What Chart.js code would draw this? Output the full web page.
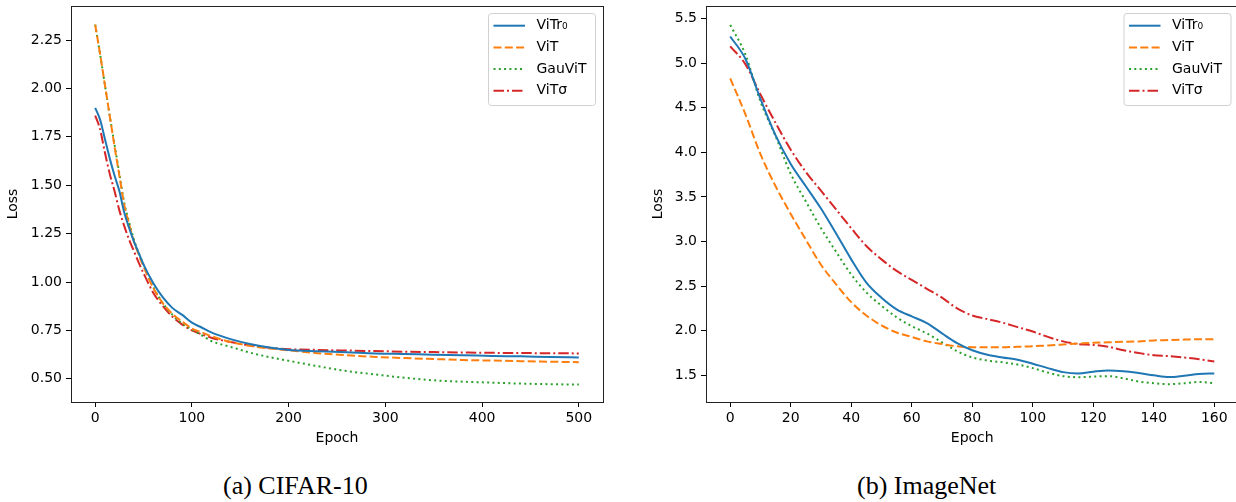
<!DOCTYPE html>
<html>
<head>
<meta charset="utf-8">
<script src="https://cdn.jsdelivr.net/npm/chart.js@4.4.1/dist/chart.umd.min.js"></script>
<style>
    body { margin: 0; background: #fff; overflow: hidden; width: 1236px; height: 502px; position: relative; }
    .panel { position: absolute; top: 0; height: 460px; }
    .caption { position: absolute; top: 471px; font-family: "Liberation Serif", serif; font-size: 26px; color: #000; white-space: nowrap; }
</style>
</head>
<body>
<div class="panel" style="left:0;width:618px"><canvas id="cifarChart"></canvas></div>
<div class="panel" style="left:618px;width:630px"><canvas id="imagenetChart"></canvas></div>
<div class="caption" style="left:223px">(a) CIFAR-10</div>
<div class="caption" style="left:857px">(b) ImageNet</div>
<script>
const seriesLabels = ['ViTr₀', 'ViT', 'GauViT', 'ViTσ'];

// (a) CIFAR-10
const epochsA = [0, 5, 10, 15, 20, 25, 30, 35, 40, 45, 50, 60, 70, 80, 90, 100, 110, 120, 140, 160, 180, 200, 230, 260, 290, 320, 350, 380, 410, 440, 470, 500];
const vitr0A = [1.90, 1.84, 1.74, 1.64, 1.55, 1.47, 1.36, 1.28, 1.21, 1.15, 1.09, 0.995, 0.92, 0.865, 0.83, 0.79, 0.765, 0.74, 0.705, 0.68, 0.662, 0.649, 0.642, 0.637, 0.631, 0.628, 0.624, 0.622, 0.618, 0.616, 0.612, 0.610];
const vitA = [2.33, 2.18, 2.02, 1.86, 1.70, 1.55, 1.40, 1.30, 1.21, 1.14, 1.08, 0.97, 0.89, 0.835, 0.795, 0.76, 0.74, 0.72, 0.69, 0.67, 0.657, 0.647, 0.632, 0.622, 0.613, 0.607, 0.602, 0.597, 0.594, 0.591, 0.588, 0.586];
const gauvitA = [2.33, 2.18, 2.02, 1.86, 1.71, 1.56, 1.41, 1.31, 1.22, 1.15, 1.09, 0.975, 0.89, 0.83, 0.785, 0.755, 0.725, 0.695, 0.665, 0.635, 0.612, 0.593, 0.565, 0.54, 0.522, 0.505, 0.492, 0.485, 0.48, 0.475, 0.472, 0.470];
const vitsigmaA = [1.86, 1.79, 1.67, 1.56, 1.47, 1.37, 1.29, 1.22, 1.16, 1.10, 1.045, 0.945, 0.875, 0.82, 0.78, 0.75, 0.73, 0.712, 0.69, 0.672, 0.66, 0.653, 0.649, 0.646, 0.643, 0.64, 0.638, 0.636, 0.634, 0.633, 0.632, 0.631];
const xTicksA = [0, 100, 200, 300, 400, 500];
const yTicksA = [0.50, 0.75, 1.00, 1.25, 1.50, 1.75, 2.00, 2.25];

// (b) ImageNet
const epochsB = [0, 5, 10, 15, 20, 25, 30, 35, 40, 45, 50, 55, 60, 65, 70, 75, 80, 85, 90, 95, 100, 105, 110, 115, 120, 125, 130, 135, 140, 145, 150, 155, 160];
const vitr0B = [5.30, 5.05, 4.60, 4.19, 3.87, 3.62, 3.37, 3.09, 2.80, 2.54, 2.37, 2.24, 2.16, 2.085, 1.97, 1.86, 1.78, 1.73, 1.70, 1.675, 1.63, 1.58, 1.535, 1.52, 1.54, 1.553, 1.545, 1.525, 1.50, 1.48, 1.495, 1.515, 1.52];
const vitB = [4.83, 4.43, 3.98, 3.62, 3.31, 3.02, 2.74, 2.52, 2.32, 2.17, 2.06, 1.98, 1.93, 1.88, 1.85, 1.825, 1.815, 1.815, 1.815, 1.82, 1.825, 1.835, 1.845, 1.855, 1.865, 1.87, 1.875, 1.88, 1.89, 1.895, 1.90, 1.905, 1.905];
const gauvitB = [5.43, 5.10, 4.57, 4.18, 3.76, 3.45, 3.15, 2.885, 2.63, 2.43, 2.28, 2.15, 2.05, 1.97, 1.87, 1.77, 1.70, 1.665, 1.645, 1.62, 1.58, 1.53, 1.49, 1.478, 1.485, 1.49, 1.465, 1.43, 1.41, 1.40, 1.41, 1.425, 1.41];
const vitsigmaB = [5.19, 4.99, 4.65, 4.33, 4.03, 3.78, 3.57, 3.36, 3.15, 2.95, 2.80, 2.67, 2.57, 2.47, 2.37, 2.25, 2.17, 2.13, 2.09, 2.04, 1.99, 1.93, 1.88, 1.85, 1.84, 1.82, 1.78, 1.75, 1.725, 1.715, 1.70, 1.68, 1.655];
const xTicksB = [0, 20, 40, 60, 80, 100, 120, 140, 160];
const yTicksB = [1.5, 2.0, 2.5, 3.0, 3.5, 4.0, 4.5, 5.0, 5.5];

const colors = ['#1f77b4', '#ff7f0e', '#2ca02c', '#d62728'];
const dashes = [[], [8, 3.3], [2, 3.3], [10.5, 3, 2, 3]];
const font = { family: 'DejaVu Sans', size: 14 };

Chart.defaults.font.family = 'DejaVu Sans';
Chart.defaults.color = '#000';

// box round the plot area
const framePlugin = {
    id: 'frame',
    afterDraw(chart) {
        const a = chart.chartArea;
        const ctx = chart.ctx;
        ctx.save();
        ctx.strokeStyle = '#222';
        ctx.lineWidth = 1;
        ctx.strokeRect(Math.round(a.left) + 0.5, Math.round(a.top) + 0.5, Math.round(a.right - a.left), Math.round(a.bottom - a.top));
        ctx.restore();
    }
};

// matplotlib-like legend in the upper right corner
const boxLegend = {
    id: 'boxLegend',
    afterDraw(chart) {
        const a = chart.chartArea;
        const ctx = chart.ctx;
        const w = 107, h = 92;
        const x = a.right - 8 - w, y = a.top + 7;
        ctx.save();
        ctx.beginPath();
        ctx.roundRect(x + 0.5, y + 0.5, w, h, 3);
        ctx.fillStyle = 'rgba(255,255,255,0.8)';
        ctx.fill();
        ctx.strokeStyle = '#d0d0d0';
        ctx.lineWidth = 1;
        ctx.stroke();
        chart.data.datasets.forEach((ds, i) => {
            const cy = y + 12.7 + i * 21.7;
            ctx.beginPath();
            ctx.setLineDash(ds.borderDash);
            ctx.strokeStyle = ds.borderColor;
            ctx.lineWidth = ds.borderWidth;
            ctx.moveTo(x + 5.5, cy);
            ctx.lineTo(x + 37, cy);
            ctx.stroke();
            ctx.setLineDash([]);
            ctx.fillStyle = '#000';
            ctx.font = '14px "DejaVu Sans"';
            ctx.textBaseline = 'middle';
            ctx.fillText(ds.label, x + 48.5, cy);
        });
        ctx.restore();
    }
};

function makeChart(id, epochs, series, xTicks, yTicks, xRange, yRange, decimals, geo) {
    const datasets = series.map((vals, i) => ({
        label: seriesLabels[i],
        data: epochs.map((e, j) => ({ x: e, y: vals[j] })),
        borderColor: colors[i],
        borderDash: dashes[i],
        borderWidth: 2,
        pointRadius: 0,
        fill: false,
        cubicInterpolationMode: 'monotone'
    }));
    return new Chart(document.getElementById(id).getContext('2d'), {
        type: 'line',
        data: { datasets: datasets },
        options: {
            responsive: true,
            maintainAspectRatio: false,
            animation: false,
            layout: { padding: { top: 6, right: geo.padRight, left: 0, bottom: 0 } },
            plugins: { legend: { display: false }, tooltip: { enabled: false } },
            scales: {
                x: {
                    type: 'linear',
                    min: xRange[0],
                    max: xRange[1],
                    afterBuildTicks: s => { s.ticks = xTicks.map(v => ({ value: v })); },
                    afterFit: s => { s.height = 58; s.paddingLeft = 0; s.paddingRight = 0; },
                    ticks: { font: font, padding: 3, maxRotation: 0, autoSkip: false, callback: v => String(v) },
                    grid: { drawOnChartArea: false, drawTicks: true, tickLength: 5, color: '#000' },
                    border: { display: true, color: '#222' },
                    title: { display: true, text: 'Epoch', font: font, padding: { top: 0, bottom: 13.6 } }
                },
                y: {
                    type: 'linear',
                    min: yRange[0],
                    max: yRange[1],
                    afterBuildTicks: s => { s.ticks = yTicks.map(v => ({ value: v })); },
                    afterFit: s => { s.width = geo.axisWidth; s.paddingTop = 0; s.paddingBottom = 0; },
                    ticks: { font: font, padding: 4, autoSkip: false, callback: v => Number(v).toFixed(decimals) },
                    grid: { drawOnChartArea: false, drawTicks: true, tickLength: 5, color: '#000' },
                    border: { display: true, color: '#222' },
                    title: { display: true, text: 'Loss', font: font, padding: { top: geo.titlePad, bottom: 0 } }
                }
            }
        },
        plugins: [framePlugin, boxLegend]
    });
}

makeChart('cifarChart', epochsA, [vitr0A, vitA, gauvitA, vitsigmaA], xTicksA, yTicksA,
    [-25, 525], [0.38, 2.426], 2, { padRight: 15, axisWidth: 71, titlePad: 5 });
makeChart('imagenetChart', epochsB, [vitr0B, vitB, gauvitB, vitsigmaB], xTicksB, yTicksB,
    [-8, 168], [1.20, 5.642], 1, { padRight: 9.5, axisWidth: 88, titlePad: 32 });
</script>
</body>
</html>
